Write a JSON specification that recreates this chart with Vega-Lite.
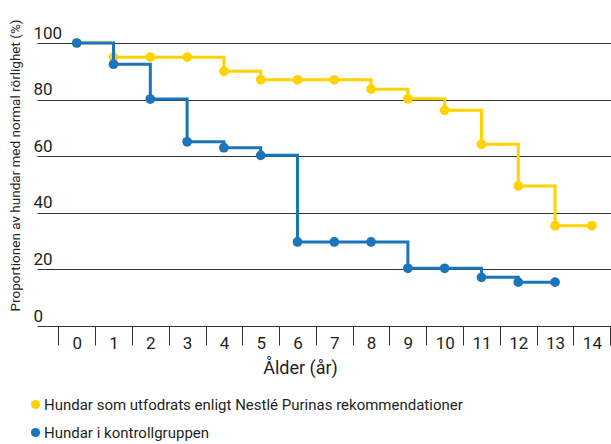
{
  "$schema": "https://vega.github.io/schema/vega-lite/v6.json",
  "width": 574,
  "height": 283,
  "autosize": {"type": "none"},
  "padding": {"left": 37, "top": 43, "right": 0, "bottom": 118},
  "config": {
    "view": {"stroke": null},
    "font": "Roboto",
    "axis": {"labelColor": "#231F20", "titleColor": "#231F20", "labelFont": "Roboto", "titleFont": "Roboto", "titleFontWeight": "normal"},
    "legend": {"labelFont": "Roboto", "labelColor": "#231F20"}
  },
  "data": {
    "values": [
      {"age": 0, "grupp": "Hundar som utfodrats enligt Nestlé Purinas rekommendationer", "value": 100},
      {"age": 1, "grupp": "Hundar som utfodrats enligt Nestlé Purinas rekommendationer", "value": 95},
      {"age": 2, "grupp": "Hundar som utfodrats enligt Nestlé Purinas rekommendationer", "value": 95},
      {"age": 3, "grupp": "Hundar som utfodrats enligt Nestlé Purinas rekommendationer", "value": 95},
      {"age": 4, "grupp": "Hundar som utfodrats enligt Nestlé Purinas rekommendationer", "value": 90},
      {"age": 5, "grupp": "Hundar som utfodrats enligt Nestlé Purinas rekommendationer", "value": 87},
      {"age": 6, "grupp": "Hundar som utfodrats enligt Nestlé Purinas rekommendationer", "value": 87},
      {"age": 7, "grupp": "Hundar som utfodrats enligt Nestlé Purinas rekommendationer", "value": 87},
      {"age": 8, "grupp": "Hundar som utfodrats enligt Nestlé Purinas rekommendationer", "value": 83.7},
      {"age": 9, "grupp": "Hundar som utfodrats enligt Nestlé Purinas rekommendationer", "value": 80.3},
      {"age": 10, "grupp": "Hundar som utfodrats enligt Nestlé Purinas rekommendationer", "value": 76.2},
      {"age": 11, "grupp": "Hundar som utfodrats enligt Nestlé Purinas rekommendationer", "value": 64.2},
      {"age": 12, "grupp": "Hundar som utfodrats enligt Nestlé Purinas rekommendationer", "value": 49.5},
      {"age": 13, "grupp": "Hundar som utfodrats enligt Nestlé Purinas rekommendationer", "value": 35.4},
      {"age": 14, "grupp": "Hundar som utfodrats enligt Nestlé Purinas rekommendationer", "value": 35.4},
      {"age": 0, "grupp": "Hundar i kontrollgruppen", "value": 100},
      {"age": 1, "grupp": "Hundar i kontrollgruppen", "value": 92.5},
      {"age": 2, "grupp": "Hundar i kontrollgruppen", "value": 80.2},
      {"age": 3, "grupp": "Hundar i kontrollgruppen", "value": 65.1},
      {"age": 4, "grupp": "Hundar i kontrollgruppen", "value": 63},
      {"age": 5, "grupp": "Hundar i kontrollgruppen", "value": 60.3},
      {"age": 6, "grupp": "Hundar i kontrollgruppen", "value": 29.7},
      {"age": 7, "grupp": "Hundar i kontrollgruppen", "value": 29.7},
      {"age": 8, "grupp": "Hundar i kontrollgruppen", "value": 29.7},
      {"age": 9, "grupp": "Hundar i kontrollgruppen", "value": 20.4},
      {"age": 10, "grupp": "Hundar i kontrollgruppen", "value": 20.4},
      {"age": 11, "grupp": "Hundar i kontrollgruppen", "value": 17.2},
      {"age": 12, "grupp": "Hundar i kontrollgruppen", "value": 15.5},
      {"age": 13, "grupp": "Hundar i kontrollgruppen", "value": 15.5}
    ]
  },
  "encoding": {
    "x": {
      "field": "age", "type": "quantitative",
      "scale": {"domain": [-1.08, 14.52], "nice": false, "zero": false},
      "axis": {
        "title": "Ålder (år)",
        "values": [-0.5, 0.5, 1.5, 2.5, 3.5, 4.5, 5.5, 6.5, 7.5, 8.5, 9.5, 10.5, 11.5, 12.5, 13.5, 14.5],
        "labelExpr": "datum.value < 14 ? '' + (datum.value + 0.5) : ''",
        "labelOffset": 18.4,
        "labelFontSize": 17,
        "labelBaseline": "alphabetic",
        "labelPadding": 3,
        "labelFlush": false,
        "labelOverlap": false,
        "labelBound": false,
        "ticks": true,
        "tickSize": 19,
        "tickColor": "#333333",
        "tickWidth": 1,
        "domain": false,
        "grid": false,
        "titleFontSize": 18,
        "titleX": 263,
        "titleY": 47,
        "titleBaseline": "alphabetic",
        "titleAlign": "center",
        "titleAnchor": null
      }
    },
    "y": {
      "field": "value", "type": "quantitative",
      "scale": {"domain": [0, 100], "nice": false},
      "axis": {
        "title": "Proportionen av hundar med normal rörlighet (%)",
        "values": [0, 20, 40, 60, 80, 100],
        "grid": true,
        "gridColor": "#333333",
        "gridWidth": 1,
        "gridOpacity": 1,
        "ticks": false,
        "tickSize": 0,
        "domain": false,
        "labelAlign": "left",
        "labelBaseline": "alphabetic",
        "labelPadding": 4,
        "labelOffset": -5,
        "labelFontSize": 17,
        "labelFlush": false,
        "labelBound": false,
        "titleFontSize": 13.5,
        "titleX": -22,
        "titleY": 122,
        "titleAngle": -90,
        "titleAlign": "center",
        "titleBaseline": "middle",
        "titleAnchor": null
      }
    },
    "color": {
      "field": "grupp", "type": "nominal",
      "scale": {
        "domain": ["Hundar som utfodrats enligt Nestlé Purinas rekommendationer", "Hundar i kontrollgruppen"],
        "range": ["#FFD200", "#1B75BB"]
      },
      "legend": {
        "title": null,
        "orient": "none",
        "legendX": -9,
        "legendY": 354,
        "direction": "vertical",
        "symbolType": "circle",
        "symbolSize": 85,
        "symbolStrokeWidth": 0,
        "symbolOpacity": 1,
        "labelFontSize": 15,
        "labelLimit": 600,
        "labelOffset": 1,
        "rowPadding": 12,
        "padding": 0
      }
    }
  },
  "layer": [
    {"transform": [{"filter": "datum.grupp != 'Hundar i kontrollgruppen'"}], "mark": {"type": "line", "interpolate": "step-after", "strokeWidth": 3}},
    {"transform": [{"filter": "datum.grupp != 'Hundar i kontrollgruppen'"}], "mark": {"type": "point", "filled": true, "size": 95, "opacity": 1}},
    {"transform": [{"filter": "datum.grupp == 'Hundar i kontrollgruppen'"}], "mark": {"type": "line", "interpolate": "step-after", "strokeWidth": 3}},
    {"transform": [{"filter": "datum.grupp == 'Hundar i kontrollgruppen'"}], "mark": {"type": "point", "filled": true, "size": 95, "opacity": 1}}
  ]
}
